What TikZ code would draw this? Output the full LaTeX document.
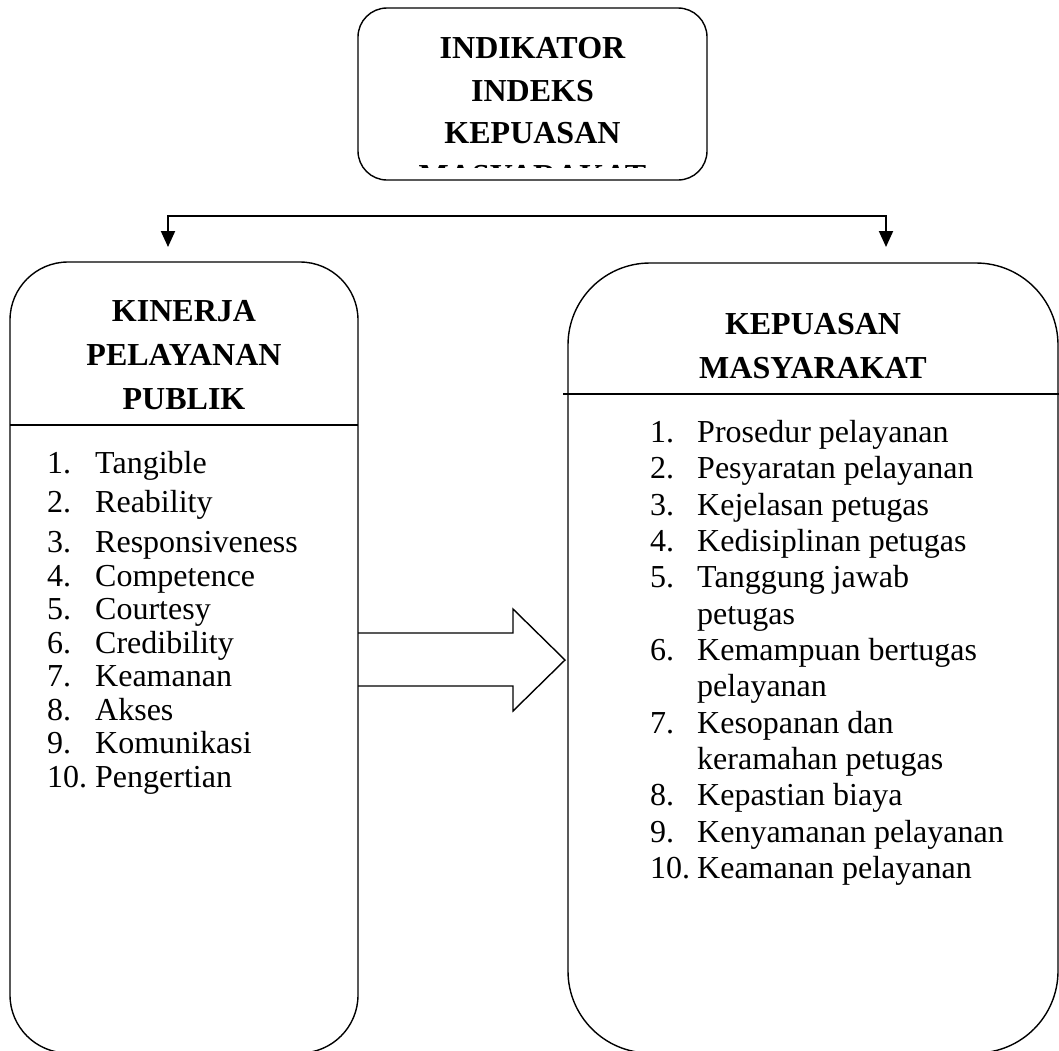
\documentclass[tikz,border=0pt]{standalone}
\usepackage{fontspec}
\setmainfont{Liberation Serif}
\usetikzlibrary{arrows.meta}
\begin{document}
\begin{tikzpicture}[x=1pt,y=-1pt,
  box/.style={draw, line width=1.4pt, inner sep=0pt},
  ttl/.style={font=\fontsize{32}{43}\selectfont\bfseries, anchor=base, inner sep=0pt},
  item/.style={font=\fontsize{32}{38}\selectfont, anchor=base west, inner sep=0pt},
  bracket/.style={line width=2pt, {Triangle[width=14pt,length=16pt]}-{Triangle[width=14pt,length=16pt]}},
  blockarrow/.style={line width=1.4pt, line join=miter}]
\useasboundingbox (0,0) rectangle (1059,1050);
\clip (0,0) rectangle (1059,1050);

% boxes
\node[box, rounded corners=29pt, minimum width=349pt, minimum height=172pt] (top) at (532.5,94) {};
\node[box, rounded corners=58pt, minimum width=348pt, minimum height=791pt] (left) at (184,657.5) {};
\node[box, rounded corners=82pt, minimum width=490pt, minimum height=790pt] (right) at (813,658) {};

% dividers
\coordinate (ldl) at (10,425);
\coordinate (ldr) at (358,425);
\draw[line width=1.4pt] (ldl) -- (ldr);
\coordinate (rdl) at (563,394);
\coordinate (rdr) at (1059,394);
\draw[line width=1.4pt] (rdl) -- (rdr);

% top title
\node[ttl] (t1) at (532.5,58) {INDIKATOR};
\node[ttl] (t2) at (532.5,101) {INDEKS};
\node[ttl] (t3) at (532.5,143) {KEPUASAN};
\begin{scope}
\clip (360,150) rectangle (705,167.5);
\node[ttl] (t4) at (532.5,186) {MASYARAKAT};
\end{scope}

% bracket connector
\coordinate (cl) at (168,247);
\coordinate (jl) at (168,216);
\coordinate (jr) at (886,216);
\coordinate (cr) at (886,247);
\draw[bracket] (cl) -- (jl) -- (jr) -- (cr);

% left title
\node[ttl] (k1) at (184,321) {KINERJA};
\node[ttl] (k2) at (184,365) {PELAYANAN};
\node[ttl] (k3) at (184,409) {PUBLIK};

% right title
\node[ttl] (m1) at (813,334) {KEPUASAN};
\node[ttl] (m2) at (813,378) {MASYARAKAT};

% left list
\foreach \n/\y/\t in {1/473/Tangible, 2/512/Reability, 3/552/Responsiveness,
  4/586/Competence, 5/619.5/Courtesy, 6/653/Credibility, 7/686.5/Keamanan,
  8/720/Akses, 9/753.5/Komunikasi, 10/787/Pengertian}{
  \node[item] (ln\n) at (47,\y) {\n.};
  \node[item] (lt\n) at (95,\y) {\t};
}

% right list
\foreach \n/\y in {1/442, 2/478, 3/515, 4/551, 5/587, 6/660, 7/733, 8/805, 9/842, 10/878}{
  \node[item] (rn\n) at (650,\y) {\n.};
}
\node[item] (rt1) at (697,442) {Prosedur pelayanan};
\node[item] (rt2) at (697,478) {Pesyaratan pelayanan};
\node[item] (rt3) at (697,515) {Kejelasan petugas};
\node[item] (rt4) at (697,551) {Kedisiplinan petugas};
\node[item] (rt5) at (697,587) {Tanggung jawab};
\node[item] (rt5b) at (697,624) {petugas};
\node[item] (rt6) at (697,660) {Kemampuan bertugas};
\node[item] (rt6b) at (697,696) {pelayanan};
\node[item] (rt7) at (697,733) {Kesopanan dan};
\node[item] (rt7b) at (697,769) {keramahan petugas};
\node[item] (rt8) at (697,805) {Kepastian biaya};
\node[item] (rt9) at (697,842) {Kenyamanan pelayanan};
\node[item] (rt10) at (697,878) {Keamanan pelayanan};

% block arrow
\draw[blockarrow] (358,633) -- (513,633) -- (513,609) -- (565,660) -- (513,711) -- (513,686) -- (358,686);
\end{tikzpicture}
\end{document}
